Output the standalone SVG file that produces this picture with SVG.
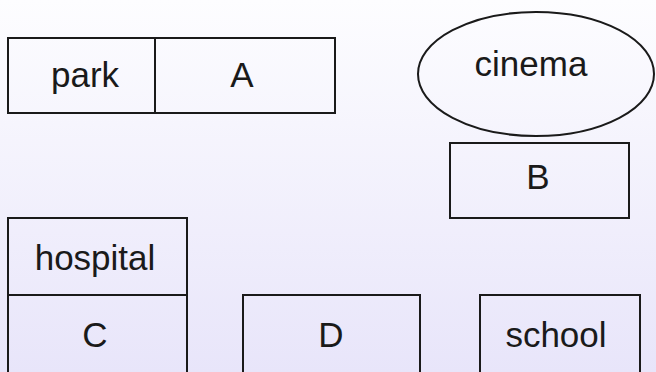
<svg xmlns="http://www.w3.org/2000/svg" width="656" height="372" viewBox="0 0 656 372">
<defs>
<linearGradient id="bg" x1="0" y1="0" x2="0" y2="1">
<stop offset="0" stop-color="#fdfdff"/>
<stop offset="1" stop-color="#e8e5fa"/>
</linearGradient>
<style>
.s{fill:none;stroke:#1a1a1a;stroke-width:2}
.t{font-family:"Liberation Sans",Arial,sans-serif;font-size:35px;fill:#1a1a1a;text-anchor:middle}
</style>
</defs>
<rect x="0" y="0" width="656" height="372" fill="url(#bg)"/>
<g id="park"><rect class="s" x="8" y="38" width="147" height="75"/><text class="t" x="85" y="87">park</text></g>
<g id="A"><rect class="s" x="155" y="38" width="180" height="75"/><text class="t" x="242" y="87">A</text></g>
<g id="cinema"><ellipse class="s" cx="536" cy="74" rx="118" ry="62"/><text class="t" x="531" y="76">cinema</text></g>
<g id="B"><rect class="s" x="450" y="143" width="179" height="75"/><text class="t" x="538" y="189">B</text></g>
<g id="hospital"><rect class="s" x="8" y="218" width="179" height="77"/><text class="t" x="95" y="270">hospital</text></g>
<g id="C"><rect class="s" x="8" y="295" width="179" height="80"/><text class="t" x="95" y="347">C</text></g>
<g id="D"><rect class="s" x="243" y="295" width="177" height="80"/><text class="t" x="331" y="347">D</text></g>
<g id="school"><rect class="s" x="480" y="295" width="160" height="80"/><text class="t" x="556" y="347">school</text></g>
<g id="connectors"/>
</svg>
